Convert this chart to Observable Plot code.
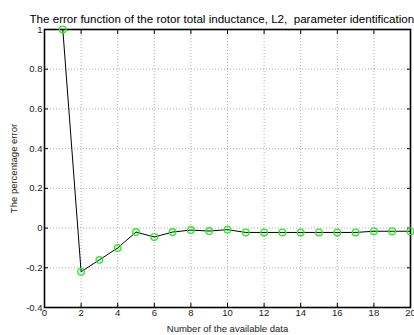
<!DOCTYPE html>
<html>
<head>
<meta charset="utf-8">
<script src="https://cdn.jsdelivr.net/npm/d3@7"></script>
<script src="https://cdn.jsdelivr.net/npm/@observablehq/plot@0.6"></script>
<style>
  html, body { margin: 0; padding: 0; background: #fff; overflow: hidden; }
  #chart svg { display: block; }
</style>
</head>
<body>
<div id="chart"></div>
<script>
// Number of available data samples used for the L2 identification
const samples = [1, 2, 3, 4, 5, 6, 7, 8, 9, 10, 11, 12, 13, 14, 15, 16, 17, 18, 19, 20];
// Relative error of the identified rotor total inductance
const errors = [1.0, -0.22, -0.16, -0.10, -0.02, -0.045, -0.02, -0.01, -0.015, -0.008,
                -0.022, -0.022, -0.022, -0.022, -0.022, -0.022, -0.022, -0.016, -0.016, -0.016];
const xTicks = [0, 2, 4, 6, 8, 10, 12, 14, 16, 18, 20];
const yTicks = [-0.4, -0.2, 0, 0.2, 0.4, 0.6, 0.8, 1];
const titleText = "The error function of the rotor total inductance, L2,  parameter identification";

const rows = samples.map((n, i) => ({n, e: errors[i]}));
const blank = () => "";

const chart = Plot.plot({
  width: 414,
  height: 335,
  marginLeft: 44,
  marginRight: 4,
  marginTop: 29,
  marginBottom: 28,
  style: {fontFamily: "Liberation Sans, Arial, sans-serif", fontSize: "9.5px", background: "#fff", color: "#222", overflow: "visible"},
  x: {domain: [0, 20]},
  y: {domain: [-0.4, 1]},
  marks: [
    Plot.ruleX(xTicks, {stroke: "#999", strokeDasharray: "1,2", strokeWidth: 0.8}),
    Plot.ruleY(yTicks, {stroke: "#999", strokeDasharray: "1,2", strokeWidth: 0.8}),
    Plot.axisX({ticks: xTicks, tickSize: -4, tickPadding: 6, tickFormat: d => String(d), stroke: "#000",
      label: "Number of the available data", labelAnchor: "center", labelArrow: "none", labelOffset: 24}),
    Plot.axisX({anchor: "top", ticks: xTicks, tickSize: -4, tickFormat: blank, label: null, stroke: "#000"}),
    Plot.axisY({ticks: yTicks, tickSize: -4, tickPadding: 6, tickFormat: d => String(d), stroke: "#000",
      label: "The percentage error", labelAnchor: "center", labelArrow: "none", labelOffset: 34}),
    Plot.axisY({anchor: "right", ticks: yTicks, tickSize: -4, tickFormat: blank, label: null, stroke: "#000"}),
    Plot.frame({stroke: "#000", strokeWidth: 1.6}),
    Plot.line(rows, {x: "n", y: "e", stroke: "#000", strokeWidth: 1}),
    Plot.dot(rows, {x: "n", y: "e", r: 3.3, stroke: "#22ee22", strokeWidth: 1.3, fill: "none"}),
    Plot.text([titleText], {frameAnchor: "top-left", dx: -15, dy: -15, textAnchor: "start", fontSize: 11.6, fill: "#000"})
  ]
});

document.getElementById("chart").appendChild(chart);
</script>
</body>
</html>
